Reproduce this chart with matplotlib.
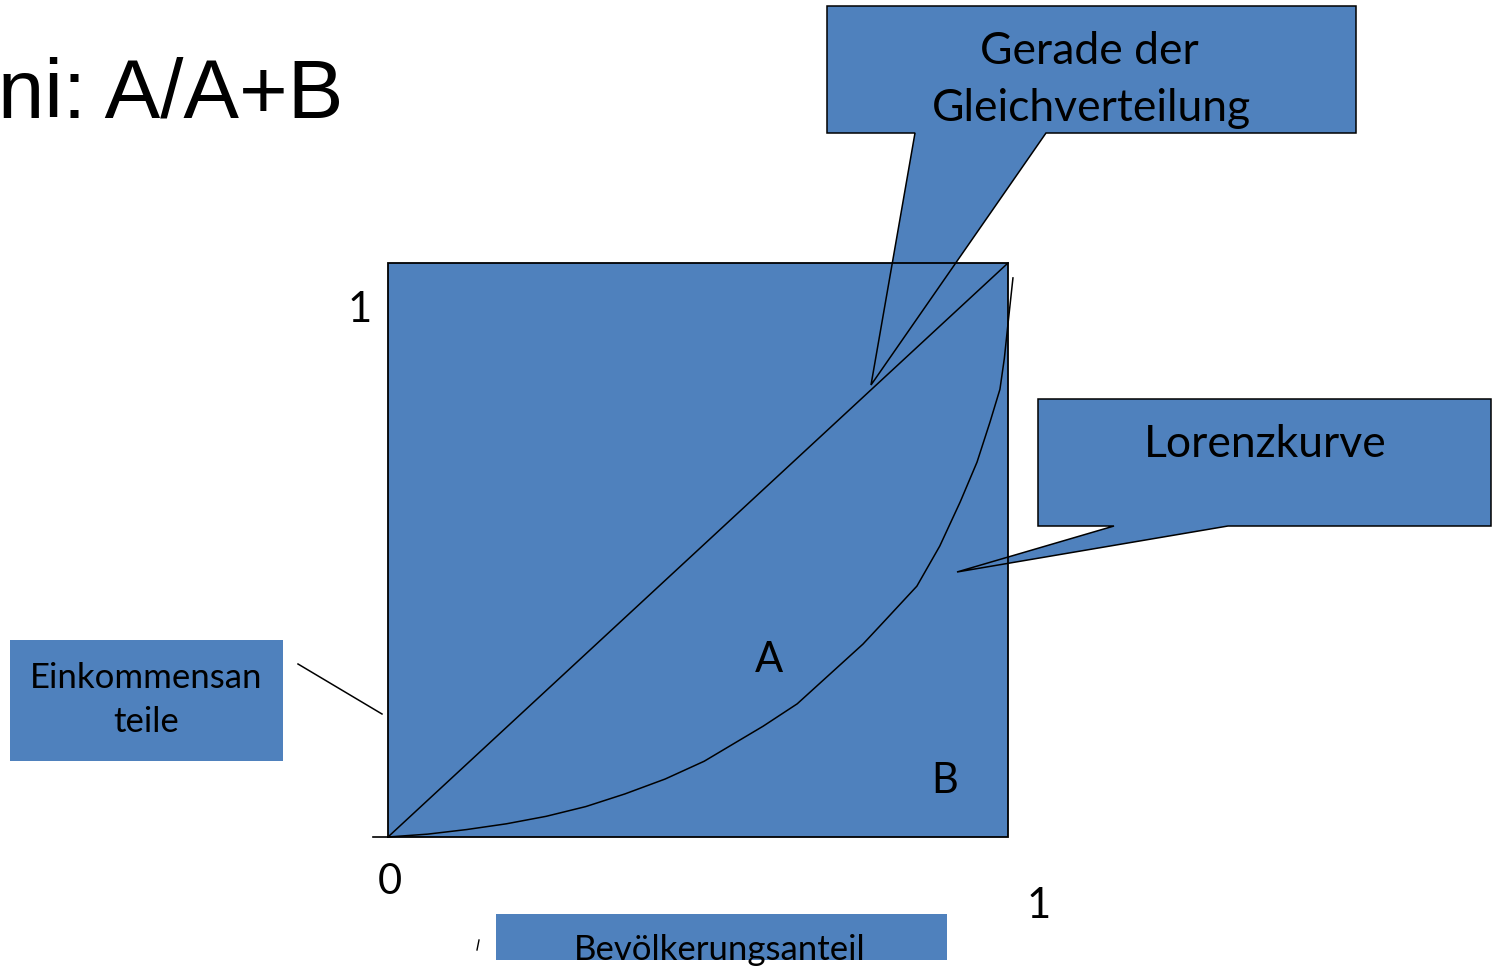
import numpy as np
import matplotlib.pyplot as plt
import matplotlib.transforms as mtransforms
from matplotlib.patches import Polygon, Rectangle

W, H = 1492, 970
BLUE = '#4F81BD'

# Lorenz curve (share of population, share of income)
lorenz_x = [0.0, 0.064, 0.127, 0.191, 0.255, 0.319, 0.382, 0.447, 0.510,
            0.552, 0.605, 0.660, 0.713, 0.766, 0.798, 0.853, 0.890, 0.923,
            0.950, 0.971, 0.987, 0.994, 1.000, 1.008]
lorenz_y = [0.0, 0.005, 0.013, 0.023, 0.036, 0.053, 0.075, 0.101, 0.132,
            0.159, 0.193, 0.232, 0.284, 0.336, 0.373, 0.437, 0.507, 0.584,
            0.653, 0.723, 0.780, 0.833, 0.894, 0.974]
# line of equal distribution
equal_x = [0, 1]
equal_y = [0, 1]

# square of the diagram in pixels (left, right, bottom, top)
SQ_L, SQ_R, SQ_B, SQ_T = 388, 1008, 838, 264

fig = plt.figure(figsize=(W / 100, H / 100), dpi=100)
ax = fig.add_axes([0, 0, 1, 1])
sx = SQ_R - SQ_L
sy = SQ_B - SQ_T
ax.set_xlim(-SQ_L / sx, (W - SQ_L) / sx)
ax.set_ylim((SQ_B - H) / sy, SQ_B / sy)
ax.axis('off')

# pixel coordinates (y down) -> display
px = mtransforms.Affine2D().scale(1, -1).translate(0, H)

font = 'Lato'

# square
ax.add_patch(Rectangle((0, 0), 1, 1, facecolor=BLUE, edgecolor='none', zorder=1))

# callout "Gerade der Gleichverteilung"
g_poly = [(827, 7), (1356, 7), (1356, 134), (1046, 134), (871, 386),
          (915, 134), (827, 134)]
ax.add_patch(Polygon(g_poly, closed=True, facecolor=BLUE, edgecolor='black',
                     lw=1.1, transform=px, zorder=2))
# callout "Lorenzkurve"
l_poly = [(1038, 400), (1491, 400), (1491, 527), (1228, 527), (957, 573),
          (1114, 527), (1038, 527)]
ax.add_patch(Polygon(l_poly, closed=True, facecolor=BLUE, edgecolor='black',
                     lw=1.1, transform=px, zorder=2))

ax.add_patch(Rectangle((0, 0), 1, 1, facecolor='none', edgecolor='black',
                       lw=1.3, zorder=3))
ax.plot(equal_x, equal_y, color='black', lw=1.1, zorder=4)
ax.plot(lorenz_x, lorenz_y, color='black', lw=1.1, zorder=4,
        solid_joinstyle='round')
ax.plot([373, 388], [838, 838], color='black', lw=1.2, transform=px, zorder=4)

# label boxes
ax.add_patch(Rectangle((10, 641), 273, 121, facecolor=BLUE, edgecolor='none',
                       transform=px, zorder=2))
ax.plot([298, 382], [665, 715], color='black', lw=1.1, transform=px)
ax.add_patch(Rectangle((496, 915), 451, 46, facecolor=BLUE, edgecolor='none',
                       transform=px, zorder=2))
ax.plot([479, 477], [941, 951], color='black', lw=1.0, transform=px)

def txt(x, y, s, size, family=font, ha='center'):
    ax.text(x, y, s, fontsize=size, family=family, ha=ha, va='baseline',
            color='black', transform=px, zorder=5)

txt(-2, 118, 'ni: A/A+B', 60, family='Liberation Sans', ha='left')
txt(1089, 64, 'Gerade der', 32)
txt(1091, 121, 'Gleichverteilung', 32)
txt(1265, 457, 'Lorenzkurve', 32)
txt(146, 688, 'Einkommensan', 25)
txt(146, 732, 'teile', 25)
txt(720, 960, 'Bevölkerungsanteil', 25)
txt(360, 322, '1', 30)
txt(390, 894, '0', 30)
txt(1039, 918, '1', 30)
txt(769, 672, 'A', 30)
txt(945, 793, 'B', 30)

fig.savefig('out.png', dpi=100)
